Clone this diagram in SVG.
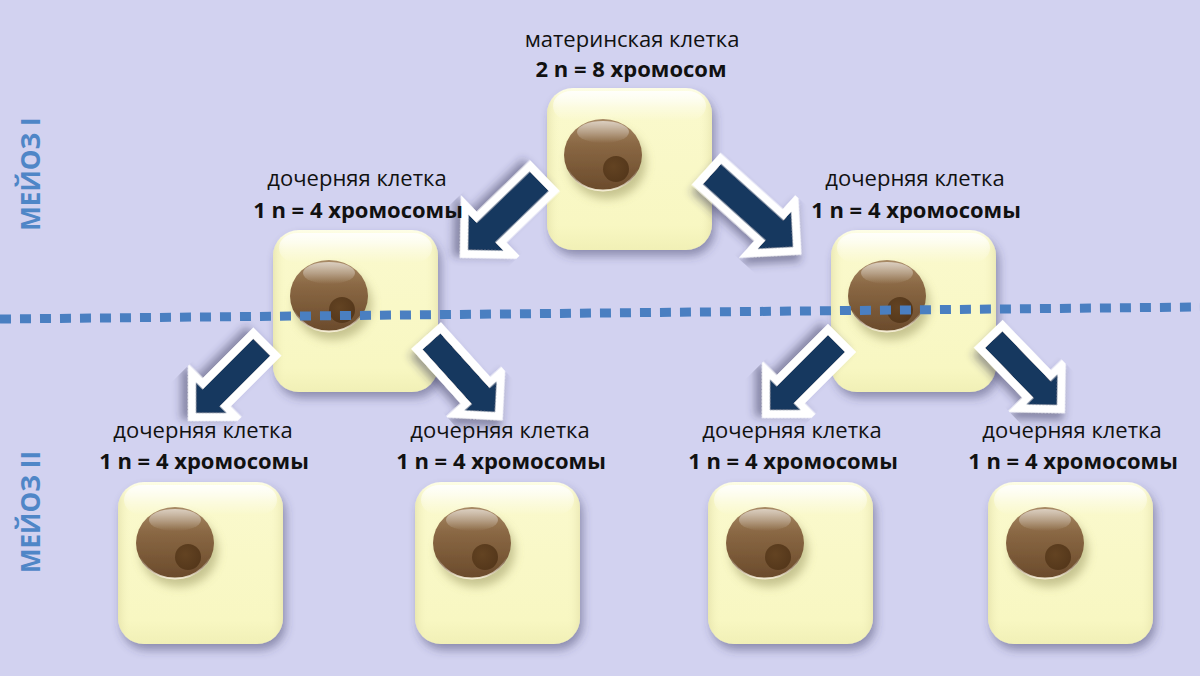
<svg xmlns="http://www.w3.org/2000/svg" xmlns:xlink="http://www.w3.org/1999/xlink" width="1200" height="676" viewBox="0 0 1200 676">
<style>
.lbl{font-family:"Open Sans","Noto Sans","DejaVu Sans",sans-serif;font-size:22px;fill:#111;text-anchor:middle}
.b{font-weight:700}
.side{font-family:"Open Sans","Noto Sans","DejaVu Sans",sans-serif;font-size:26px;font-weight:700;fill:#4f86c7;text-anchor:middle}
.arrow{fill:#17375e;stroke:#fff;stroke-width:16;stroke-linejoin:miter;stroke-miterlimit:10;paint-order:stroke;filter:url(#arrShadow)}
.divider{stroke:#4a7fc1;stroke-width:9;stroke-dasharray:11 9;fill:none}
</style>
<defs>
<filter id="cellShadow" x="-20%" y="-20%" width="150%" height="150%">
<feDropShadow dx="3" dy="6" stdDeviation="5" flood-color="#3c3c60" flood-opacity="0.45"/>
</filter>
<filter id="arrShadow" x="-30%" y="-30%" width="170%" height="170%">
<feDropShadow dx="4" dy="6" stdDeviation="4" flood-color="#2a2a50" flood-opacity="0.45"/>
</filter>
<filter id="nucShadow" x="-40%" y="-40%" width="190%" height="190%">
<feDropShadow dx="4" dy="8" stdDeviation="5" flood-color="#8a8450" flood-opacity="0.45"/>
</filter>
<linearGradient id="cellFill" x1="0" y1="0" x2="0" y2="1">
<stop offset="0" stop-color="#fdfde6"/>
<stop offset="0.12" stop-color="#faf9cc"/>
<stop offset="0.85" stop-color="#f8f7c2"/>
<stop offset="1" stop-color="#f1f0b6"/>
</linearGradient>
<linearGradient id="cellSide" x1="0" y1="0" x2="1" y2="0">
<stop offset="0" stop-color="#d8d49a" stop-opacity="0.45"/>
<stop offset="0.08" stop-color="#f8f7c2" stop-opacity="0"/>
<stop offset="0.92" stop-color="#f8f7c2" stop-opacity="0"/>
<stop offset="1" stop-color="#d8d49a" stop-opacity="0.4"/>
</linearGradient>
<linearGradient id="cellHi" x1="0" y1="0" x2="0" y2="1">
<stop offset="0" stop-color="#ffffff" stop-opacity="0.85"/>
<stop offset="1" stop-color="#ffffff" stop-opacity="0"/>
</linearGradient>
<linearGradient id="nucFill" x1="0" y1="0" x2="0" y2="1">
<stop offset="0" stop-color="#a88a66"/>
<stop offset="0.35" stop-color="#8a6844"/>
<stop offset="1" stop-color="#6a4a2b"/>
</linearGradient>
<linearGradient id="nucHi" x1="0" y1="0" x2="0" y2="1">
<stop offset="0" stop-color="#ffffff" stop-opacity="0.6"/>
<stop offset="1" stop-color="#ffffff" stop-opacity="0"/>
</linearGradient>
<linearGradient id="nucRim" x1="0" y1="0" x2="0" y2="1">
<stop offset="0" stop-color="#ffffff" stop-opacity="0"/>
<stop offset="0.7" stop-color="#ffffff" stop-opacity="0"/>
<stop offset="1" stop-color="#fff8e0" stop-opacity="0.9"/>
</linearGradient>
<radialGradient id="dotFill" cx="0.4" cy="0.4" r="0.7">
<stop offset="0" stop-color="#634322"/>
<stop offset="1" stop-color="#53361a"/>
</radialGradient>
<g id="body">
<rect width="165" height="162" rx="26" fill="url(#cellFill)" filter="url(#cellShadow)"/>
<rect width="165" height="162" rx="26" fill="url(#cellSide)"/>
<rect x="6" y="3" width="153" height="30" rx="18" fill="url(#cellHi)"/>
</g>
<g id="nucleus">
<ellipse rx="39" ry="36" fill="url(#nucFill)" filter="url(#nucShadow)"/>
<ellipse cy="-23" rx="26" ry="11" fill="url(#nucHi)"/>
<ellipse rx="38.5" ry="35.5" fill="none" stroke="url(#nucRim)" stroke-width="1.8"/>
<circle cx="13" cy="14" r="13" fill="url(#dotFill)"/>
</g>
</defs>
<rect width="1200" height="676" fill="#d2d2f0"/>

<g id="cell-mother" transform="translate(547,88)"><use xlink:href="#body"/><use xlink:href="#nucleus" x="56" y="67"/></g>
<g id="cell-d1" transform="translate(273,230)"><use xlink:href="#body"/><use xlink:href="#nucleus" x="56" y="66"/></g>
<g id="cell-d2" transform="translate(831,230)"><use xlink:href="#body"/><use xlink:href="#nucleus" x="56" y="66"/></g>
<g id="cell-g1" transform="translate(118,482)"><use xlink:href="#body"/><use xlink:href="#nucleus" x="57" y="61"/></g>
<g id="cell-g2" transform="translate(415,482)"><use xlink:href="#body"/><use xlink:href="#nucleus" x="57" y="61"/></g>
<g id="cell-g3" transform="translate(708,482)"><use xlink:href="#body"/><use xlink:href="#nucleus" x="57" y="61"/></g>
<g id="cell-g4" transform="translate(988,482)"><use xlink:href="#body"/><use xlink:href="#nucleus" x="57" y="61"/></g>

<line id="divider" class="divider" x1="0" y1="319" x2="1200" y2="307"/>

<g id="connectors">
<polygon class="arrow" transform="translate(468,250) rotate(136)" points="0,0 -25,-25 -25,-13.5 -99,-13.5 -99,13.5 -25,13.5 -25,25"/>
<polygon class="arrow" transform="translate(793,247) rotate(42)" points="0,0 -25,-25 -25,-13.5 -109,-13.5 -109,13.5 -25,13.5 -25,25"/>
<polygon class="arrow" transform="translate(196,413) rotate(135)" points="0,0 -21.5,-21.5 -21.5,-12 -93,-12 -93,12 -21.5,12 -21.5,21.5"/>
<polygon class="arrow" transform="translate(495,412) rotate(48)" points="0,0 -21.5,-21.5 -21.5,-12 -95,-12 -95,12 -21.5,12 -21.5,21.5"/>
<polygon class="arrow" transform="translate(770,410) rotate(135)" points="0,0 -21.5,-21.5 -21.5,-12 -94,-12 -94,12 -21.5,12 -21.5,21.5"/>
<polygon class="arrow" transform="translate(1057,405) rotate(46)" points="0,0 -21.5,-21.5 -21.5,-12 -91,-12 -91,12 -21.5,12 -21.5,21.5"/>
</g>

<g id="labels">
<text class="lbl" x="632" y="47">материнская клетка</text>
<text class="lbl b" x="631" y="77">2 n = 8 хромосом</text>
<text class="lbl" x="357" y="186">дочерняя клетка</text>
<text class="lbl b" x="358" y="218">1 n = 4 хромосомы</text>
<text class="lbl" x="915" y="186">дочерняя клетка</text>
<text class="lbl b" x="916" y="218">1 n = 4 хромосомы</text>
<text class="lbl" x="203" y="438">дочерняя клетка</text>
<text class="lbl b" x="204" y="469">1 n = 4 хромосомы</text>
<text class="lbl" x="500" y="438">дочерняя клетка</text>
<text class="lbl b" x="501" y="469">1 n = 4 хромосомы</text>
<text class="lbl" x="792" y="438">дочерняя клетка</text>
<text class="lbl b" x="793" y="469">1 n = 4 хромосомы</text>
<text class="lbl" x="1072" y="438">дочерняя клетка</text>
<text class="lbl b" x="1073" y="469">1 n = 4 хромосомы</text>
<text class="side" transform="translate(40,174) rotate(-90)">МЕЙОЗ I</text>
<text class="side" transform="translate(40,512) rotate(-90)">МЕЙОЗ II</text>
</g>
</svg>
